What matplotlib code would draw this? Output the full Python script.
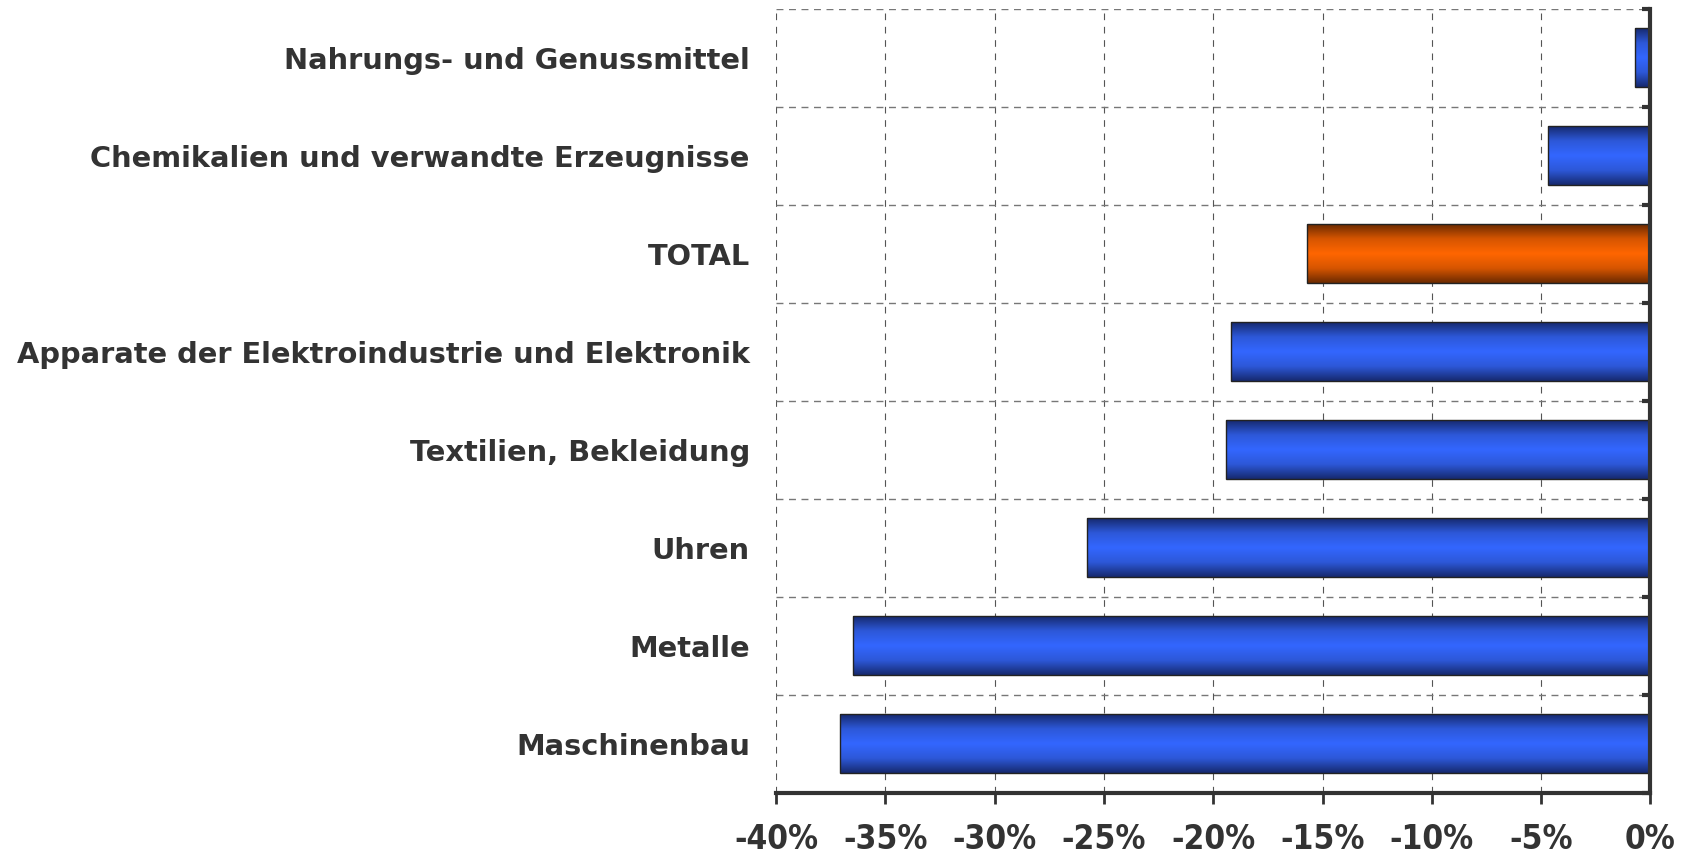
import numpy as np
import matplotlib
matplotlib.use("Agg")
import matplotlib.pyplot as plt
import matplotlib.ticker as mticker
from matplotlib.colors import LinearSegmentedColormap

# categories from top to bottom
categories = [
    "Nahrungs- und Genussmittel",
    "Chemikalien und verwandte Erzeugnisse",
    "TOTAL",
    "Apparate der Elektroindustrie und Elektronik",
    "Textilien, Bekleidung",
    "Uhren",
    "Metalle",
    "Maschinenbau",
]
changes = [-0.7, -4.7, -15.7, -19.2, -19.4, -25.8, -36.5, -37.1]
highlight = "TOTAL"
x_ticks = [-40, -35, -30, -25, -20, -15, -10, -5, 0]

_TEXT = "#333333"
_BLUE = LinearSegmentedColormap.from_list(
    "blue_bar", ["#16296e", "#2d58d8", "#3366ff", "#2d58d8", "#16296e"]
)
_ORANGE = LinearSegmentedColormap.from_list(
    "orange_bar", ["#6b2a00", "#d65500", "#ff6600", "#d65500", "#6b2a00"]
)

fig = plt.figure(figsize=(16.91, 8.55), dpi=100)
ax = fig.add_axes([0.459, 0.073, 0.517, 0.917])

y = np.arange(len(categories))
bars = ax.barh(y, changes, height=0.6, facecolor="none",
               edgecolor="#222222", linewidth=1.0, zorder=4)

grad = np.linspace(0, 1, 256).reshape(-1, 1)
for bar, name in zip(bars, categories):
    x0, y0 = bar.get_x(), bar.get_y()
    w, h = bar.get_width(), bar.get_height()
    cmap = _ORANGE if name == highlight else _BLUE
    ax.imshow(grad, cmap=cmap, aspect="auto", interpolation="bicubic",
              extent=(x0, x0 + w, y0 + h, y0), zorder=3)

ax.set_xlim(-40, 0)
ax.set_ylim(len(categories) - 0.5, -0.5)

ax.set_xticks(x_ticks)
ax.xaxis.set_major_formatter(mticker.FuncFormatter(lambda v, _: f"{v:.0f}%"))
ax.set_yticks(y)
ax.set_yticklabels(categories)
ax.set_yticks(np.arange(len(categories) + 1) - 0.5, minor=True)

for lbl in ax.get_yticklabels():
    lbl.set_fontweight("heavy")
    lbl.set_fontsize(20.8)
    lbl.set_color(_TEXT)
for lbl in ax.get_xticklabels():
    lbl.set_fontweight("heavy")
    lbl.set_fontsize(24)
    lbl.set_color(_TEXT)
    lbl.set_fontstretch("condensed")

ax.tick_params(axis="y", which="major", length=0, pad=19)
ax.tick_params(axis="y", which="minor", length=6, width=3, color="#333333",
               direction="in")
ax.tick_params(axis="x", which="major", length=8, width=2, color="#333333",
               pad=14, direction="out")

# y-axis on the right side (the 0% line)
ax.yaxis.set_ticks_position("right")
ax.tick_params(axis="y", which="major", labelleft=True, labelright=False)

for side in ["top", "left"]:
    ax.spines[side].set_visible(False)
ax.spines["right"].set_linewidth(3)
ax.spines["right"].set_color("#333333")
ax.spines["right"].set_zorder(6)
ax.spines["bottom"].set_linewidth(3)
ax.spines["bottom"].set_color("#333333")

ax.grid(axis="x", which="major", color="#555555", linestyle=(0, (6, 6)),
        linewidth=0.8, zorder=1)
ax.grid(axis="y", which="minor", color="#777777", linestyle=(0, (5, 4)),
        linewidth=1.0, zorder=1)
ax.set_axisbelow(True)

fig.savefig("out.png", dpi=100)
